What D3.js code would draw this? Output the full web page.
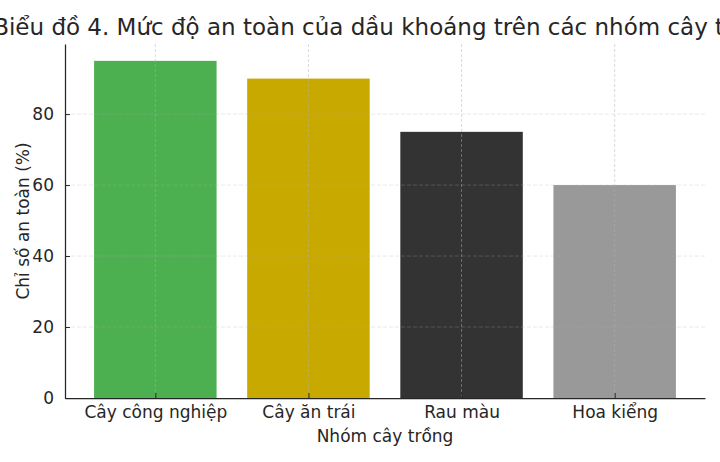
<!DOCTYPE html>
<html lang="vi">
<head>
<meta charset="utf-8">
<title>Biểu đồ 4</title>
<script src="https://cdn.jsdelivr.net/npm/d3@7"></script>
<style>
  body { margin: 0; background: #fff; }
  svg { display: block; font-family: "DejaVu Sans", sans-serif; }
  .tick text { fill: #262626; }
</style>
</head>
<body>
<script>
  // data
  var categories = ["Cây công nghiệp", "Cây ăn trái", "Rau màu", "Hoa kiểng"];
  var safety = [95, 90, 75, 60];
  var barColors = ["#4caf50", "#c8a900", "#333333", "#999999"];
  var yTicks = [0, 20, 40, 60, 80];

  var W = 720, H = 462;
  var plotLeft = 65, plotRight = 705, plotTop = 44, plotBottom = 398;

  var svg = d3.select("body").append("svg")
    .attr("width", W)
    .attr("height", H);

  // matplotlib style: bar width 0.8, 5% margins
  var x = d3.scaleLinear()
    .domain([-0.59, categories.length - 1 + 0.59])
    .range([plotLeft, plotRight]);
  var y = d3.scaleLinear()
    .domain([0, d3.max(safety) * 1.05])
    .range([plotBottom, plotTop]);

  // bars
  svg.selectAll("rect.bar")
    .data(safety)
    .enter()
    .append("rect")
    .attr("class", "bar")
    .attr("x", function(d, i) { return x(i - 0.4); })
    .attr("width", function(d, i) { return x(i + 0.4) - x(i - 0.4); })
    .attr("y", function(d) { return y(d); })
    .attr("height", function(d) { return plotBottom - y(d); })
    .attr("fill", function(d, i) { return barColors[i]; });

  // grid on top of bars
  svg.append("g").selectAll("line")
    .data(yTicks.slice(1))
    .enter().append("line")
    .attr("x1", plotLeft).attr("x2", plotRight)
    .attr("y1", function(d) { return y(d); })
    .attr("y2", function(d) { return y(d); })
    .attr("stroke", "#b0b0b0")
    .attr("stroke-opacity", 0.35)
    .attr("stroke-dasharray", "4,2")
    .attr("stroke-width", 0.8);

  svg.append("g").selectAll("line")
    .data(d3.range(categories.length))
    .enter().append("line")
    .attr("x1", function(d) { return x(d); })
    .attr("x2", function(d) { return x(d); })
    .attr("y1", plotTop).attr("y2", plotBottom)
    .attr("stroke", "#b0b0b0")
    .attr("stroke-opacity", 0.6)
    .attr("stroke-dasharray", "3,2")
    .attr("stroke-width", 0.8);

  // axes (ticks pointing inward)
  var yAxis = d3.axisLeft(y)
    .tickValues(yTicks)
    .tickSizeInner(-5)
    .tickSizeOuter(0)
    .tickPadding(11);
  var gy = svg.append("g")
    .attr("transform", "translate(" + plotLeft + ",0)")
    .call(yAxis);
  gy.selectAll("text").attr("font-size", "17px").attr("font-family", "DejaVu Sans");
  gy.select(".domain").attr("stroke", "#262626").attr("stroke-width", 1.25);
  gy.selectAll(".tick line").attr("stroke", "#262626").attr("stroke-width", 1);

  var xAxis = d3.axisBottom(x)
    .tickValues(d3.range(categories.length))
    .tickFormat(function(i) { return categories[i]; })
    .tickSizeInner(-5)
    .tickSizeOuter(0)
    .tickPadding(8);
  var gx = svg.append("g")
    .attr("transform", "translate(0," + plotBottom + ")")
    .call(xAxis);
  gx.selectAll("text").attr("font-size", "17px").attr("font-family", "DejaVu Sans");
  gx.select(".domain").attr("stroke", "#262626").attr("stroke-width", 1.25);
  gx.selectAll(".tick line").attr("stroke", "#262626").attr("stroke-width", 1);

  // title and labels
  svg.append("text")
    .attr("x", (plotLeft + plotRight) / 2)
    .attr("y", 35)
    .attr("text-anchor", "middle")
    .attr("font-size", "23px")
    .attr("fill", "#262626")
    .text("Biểu đồ 4. Mức độ an toàn của dầu khoáng trên các nhóm cây trồng");

  svg.append("text")
    .attr("x", (plotLeft + plotRight) / 2)
    .attr("y", 442)
    .attr("text-anchor", "middle")
    .attr("font-size", "17px")
    .attr("fill", "#262626")
    .text("Nhóm cây trồng");

  svg.append("text")
    .attr("transform", "translate(29," + ((plotTop + plotBottom) / 2) + ") rotate(-90)")
    .attr("text-anchor", "middle")
    .attr("font-size", "17px")
    .attr("fill", "#262626")
    .text("Chỉ số an toàn (%)");
</script>
</body>
</html>
